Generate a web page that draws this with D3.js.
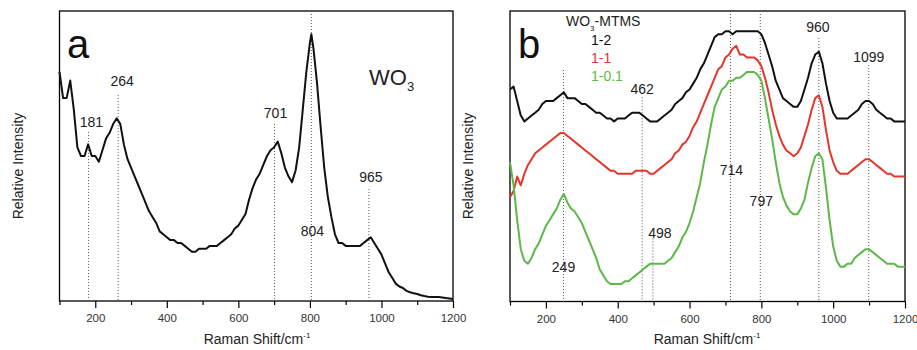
<!DOCTYPE html>
<html><head><meta charset="utf-8">
<script src="https://cdn.jsdelivr.net/npm/d3@7"></script>
<style>
html,body{margin:0;padding:0;background:#fff;}
svg{display:block;}
text{font-family:"Liberation Sans",Arial,sans-serif;}
</style></head>
<body>
<svg id="chart" width="917" height="350"></svg>
<script>
// ---------- DATA ----------
// Panel a: WO3
const shiftA = [100,110,120,130,140,150,160,170,180,190,200,210,220,230,240,250,260,270,280,290,300,310,320,330,340,350,360,370,380,390,400,410,420,430,440,450,460,470,480,490,500,510,520,530,540,550,560,570,580,590,600,610,620,630,640,650,660,670,680,690,700,710,720,730,740,750,760,770,780,790,800,804,810,820,830,840,850,860,870,880,890,900,910,920,930,940,950,960,970,980,990,1000,1010,1020,1030,1040,1050,1060,1070,1080,1090,1100,1110,1120,1130,1140,1150,1160,1170,1180,1190,1200];
const intensityA = [79,70,70,76,66,53,50,50,54,50,50,48,52,56,58,61,63,61,54,49,46,43,40,37,34,31,29,27,24,23,22,21,21,20,20,19,18,17,17,18,18,18,19,19,19,20,21,22,23,25,26,28,30,35,39,42,44,47,50,52,53,55,51,46,43,41,45,53,66,79,89,92,87,75,60,46,36,29,23,20,20,19,19,19,19,19,20,21,22,20,18,16,13,10,8,6,5,4.5,3.5,3,2.7,2.4,2,1.7,1.5,1.4,1.4,1.4,1.2,1,0.9,0.7];
const peaksA = [181,264,701,804,965];

// Panel b: WO3-MTMS
const shiftB = [100,110,120,130,140,150,160,170,180,190,200,210,220,230,240,250,260,270,280,290,300,310,320,330,340,350,360,370,380,390,400,410,420,430,440,450,460,470,480,490,500,510,520,530,540,550,560,570,580,590,600,610,620,630,640,650,660,670,680,690,700,710,720,730,740,750,760,770,780,790,800,810,820,830,840,850,860,870,880,890,900,910,920,930,940,950,960,970,980,990,1000,1010,1020,1030,1040,1050,1060,1070,1080,1090,1100,1110,1120,1130,1140,1150,1160,1170,1180,1190,1200];
const ratio12 = [73,74,69,64,62,63,64,65,66,68,69,69,69,70,71,72,70,70,70,69,68,68,67,66,65,65,64,63,63,62,63,63,63,64,65,65,65,64,63,62,62,62,63,64,65,66,68,69,70,72,73,75,77,80,82,85,88,91,92,92,93,93,92,93,93,93,93,93,93,93,92,89,85,81,76,73,70,69,68,67,67,69,73,77,82,85,86,82,75,69,65,63,63,63,63,64,65,66,68,69,69,68,66,65,64,63,63,62,62,62,62];
const ratio11 = [36,38,43,40,44,47,49,51,52,53,54,55,56,57,58,58,57,56,55,54,53,52,51,50,49,48,47,46,45,45,44,44,44,44,44,45,45,45,45,44,44,45,46,47,48,49,51,52,54,55,57,60,62,65,68,71,74,77,80,81,84,85,87,88,85,85,84,84,84,83,81,77,72,66,61,57,54,52,51,50,51,53,57,61,66,70,71,67,59,52,48,45,44,44,44,45,46,47,48,49,49,48,47,46,45,44,44,43,43,43,43];
const ratio101 = [48,40,28,18,14,13,15,18,20,23,26,28,30,32,35,37,34,32,31,29,27,24,21,18,15,11,9,7,6,6,6,6,7,7,8,9,10,11,12,13,13,13,13,13,14,15,17,19,22,24,27,31,36,41,48,54,61,67,70,73,74,76,76,77,77,78,79,79,79,78,76,70,63,56,48,41,36,33,31,30,30,32,35,41,46,50,51,49,39,28,19,14,12,12,13,13,15,16,17,18,18,17,16,15,14,13,13,13,12,12,12];
const seriesNames = ["1-2","1-1","1-0.1"];
const peaksB = [249,468,498,714,797,960,1099];
const peakLabelsB = ["249","462","498","714","797","960","1099"];

const xTicksMajor = [200,400,600,800,1000,1200];
const xTicksMinor = [100,300,500,700,900,1100];

// ---------- LAYOUT ----------
const svg = d3.select("#chart");
const colors = ["#111111","#e5362b","#5cb848"];

function panel(x0, x1, y0, y1) {
  const x = d3.scaleLinear().domain([100,1200]).range([x0,x1]);
  const y = d3.scaleLinear().domain([0,100]).range([y1,y0]);
  const g = svg.append("g");
  g.append("rect").attr("x",x0).attr("y",y0).attr("width",x1-x0).attr("height",y1-y0)
    .attr("fill","none").attr("stroke","#000").attr("stroke-width",1.3);
  const ax = g.append("g").attr("transform",`translate(0,${y1})`)
    .call(d3.axisBottom(x).tickValues(xTicksMajor).tickSize(7).tickPadding(6).tickFormat(d3.format("d")));
  ax.select(".domain").remove();
  ax.selectAll("line").attr("stroke","#000").attr("stroke-width",1.2);
  ax.selectAll("text").attr("font-size",11.5).attr("fill","#333");
  const axm = g.append("g").attr("transform",`translate(0,${y1})`)
    .call(d3.axisBottom(x).tickValues(xTicksMinor).tickSize(4).tickFormat(""));
  axm.select(".domain").remove();
  axm.selectAll("line").attr("stroke","#000").attr("stroke-width",1.2);
  return {x, y, g};
}

function dotted(p, shift, topVal) {
  p.g.append("line").attr("x1",p.x(shift)).attr("x2",p.x(shift))
    .attr("y1",p.y(topVal)).attr("y2",p.y(0))
    .attr("stroke","#555").attr("stroke-width",1).attr("stroke-dasharray","1,2");
}
function label(p, shift, val, txt, dx) {
  p.g.append("text").attr("x",p.x(shift)+(dx||0)).attr("y",p.y(val))
    .attr("text-anchor","middle").attr("font-size",14).attr("fill","#222").text(txt);
}

// ----- Panel a -----
const pa = panel(59.5, 453, 11, 301);
[[181,58.3],[264,71],[701,61],[804,100],[965,38.6]].forEach(d=>dotted(pa,d[0],d[1]));
const lineA = d3.line().x((d,i)=>pa.x(shiftA[i])).y(d=>pa.y(d));
pa.g.append("path").datum(intensityA).attr("d",lineA).attr("fill","none")
  .attr("stroke","#111").attr("stroke-width",2).attr("stroke-linejoin","round");
label(pa,181,60,"181",3);
label(pa,264,74,"264",4);
label(pa,701,63,"701",1);
label(pa,804,22.4,"804",1);
label(pa,965,41,"965",2);
svg.append("text").attr("x",67).attr("y",58).attr("font-family","Open Sans, Noto Sans, sans-serif")
  .attr("font-size",40).attr("fill","#111").text("a");
const wo = svg.append("text").attr("x",369).attr("y",85).attr("font-size",22).attr("fill","#222");
wo.append("tspan").text("WO");
wo.append("tspan").attr("font-size",13).attr("dy",6).text("3");

// ----- Panel b -----
const pb = panel(510, 905, 11, 301.5);
const topsB = [79.7,70.3,21.7,100,100,90.7,81.4];
peaksB.forEach((s,i)=>dotted(pb,s,topsB[i]));
const seriesB = [ratio12, ratio11, ratio101];
const lineB = d3.line().x((d,i)=>pb.x(shiftB[i])).y(d=>pb.y(d));
seriesB.forEach((s,k)=>{
  pb.g.append("path").datum(s).attr("d",lineB).attr("fill","none")
    .attr("stroke",colors[k]).attr("stroke-width",2).attr("stroke-linejoin","round");
});
const labValsB = [10.3,71.4,22,43.4,33,92.8,82.4];
const labDx = [0,0,7,1,1,-1,0];
peaksB.forEach((s,i)=>label(pb,s,labValsB[i],peakLabelsB[i],labDx[i]));
svg.append("text").attr("x",518).attr("y",58).attr("font-family","Open Sans, Noto Sans, sans-serif")
  .attr("font-size",40).attr("fill","#111").text("b");
const lt = svg.append("text").attr("x",566).attr("y",26).attr("font-size",14).attr("fill","#222");
lt.append("tspan").text("WO");
lt.append("tspan").attr("font-size",8).attr("dy",5).text("3");
lt.append("tspan").attr("dy",-5).text("-MTMS");
seriesNames.forEach((n,k)=>{
  svg.append("text").attr("x",591).attr("y",45+k*18).attr("font-size",14)
    .attr("fill",colors[k]).text(n);
});

// ----- axis titles -----
function xTitle(cx){
  const t = svg.append("text").attr("x",cx).attr("y",344).attr("text-anchor","middle")
    .attr("font-size",14).attr("fill","#222");
  t.append("tspan").text("Raman Shift/cm");
  t.append("tspan").attr("font-size",8).attr("dy",-6).text("-1");
}
xTitle(257); xTitle(707);
function yTitle(cx){
  svg.append("text").attr("transform",`translate(${cx},166) rotate(-90)`)
    .attr("text-anchor","middle").attr("font-size",14).attr("fill","#222").text("Relative Intensity");
}
yTitle(23); yTitle(473);
</script>
</body></html>
